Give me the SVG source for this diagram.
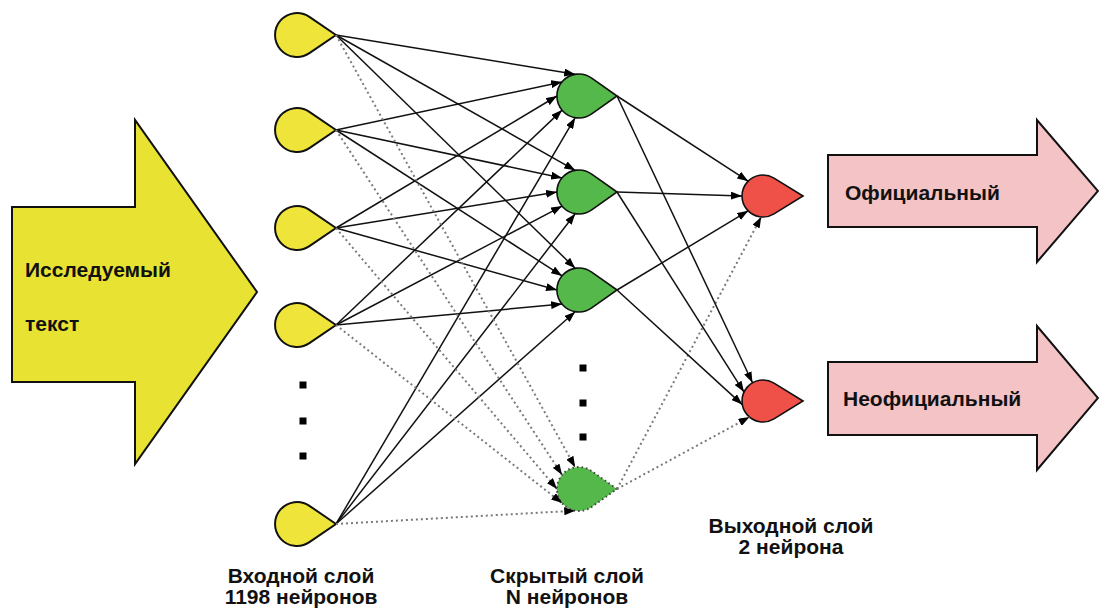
<svg xmlns="http://www.w3.org/2000/svg" xmlns:xlink="http://www.w3.org/1999/xlink" width="1099" height="612" viewBox="0 0 1099 612">
<style>
.bg{fill:#ffffff}
.bigY{fill:#E8E233;stroke:#111;stroke-width:2}
.bigP{fill:#F4C3C5;stroke:#111;stroke-width:2}
.inp{fill:#EFE43A;stroke:#111;stroke-width:2}
.hid{fill:#55B84A;stroke:#111;stroke-width:1.6}
.hidD{fill:#55B84A;stroke:#444;stroke-width:2;stroke-dasharray:1.5 3}
.out{fill:#EF5048;stroke:#111;stroke-width:1.6}
.lbl{font-family:"Liberation Sans",Arial,sans-serif;font-weight:bold;font-size:21px;fill:#111}
.mid{text-anchor:middle}
.sol{stroke:#111;stroke-width:1.5;fill:none;marker-end:url(#ah)}
.dot{stroke:#7a7a7a;stroke-width:2;stroke-dasharray:2 3;fill:none;marker-end:url(#ah)}
.sq{fill:#000}
</style>
<defs>
<marker id="ah" markerUnits="userSpaceOnUse" markerWidth="12" markerHeight="8" refX="11" refY="4" orient="auto">
<path d="M0,0 L11,4 L0,8 Z" fill="#000"/>
</marker>
<path id="dIn" d="M39,0 L12.4,-18.2 A22,22 0 1 0 12.4,18.2 Z"/>
<path id="dHid" d="M38,0 L12.7,-17.9 A22,22 0 1 0 12.7,17.9 Z"/>
<path id="dOut" d="M40,0 L11,-17.9 A21,21 0 1 0 11,17.9 Z"/>
</defs>
<rect class="bg" x="0" y="0" width="1099" height="612"/>

<g id="input-arrow">
<path class="bigY" d="M12,207 L135,207 L135,120 L257,292 L135,464 L135,382 L12,382 Z"/>
<text class="lbl" x="25" y="277">Исследуемый</text>
<text class="lbl" x="25" y="331">текст</text>
</g>

<g id="out-arrow-1">
<path class="bigP" d="M828,155 L1037,155 L1037,120 L1098,191 L1037,262 L1037,227 L828,227 Z"/>
<text class="lbl" x="845" y="200">Официальный</text>
</g>
<g id="out-arrow-2">
<path class="bigP" d="M828,362 L1037,362 L1037,326 L1098,398 L1037,470 L1037,435 L828,435 Z"/>
<text class="lbl" x="843" y="406">Неофициальный</text>
</g>

<g id="in1"><use xlink:href="#dIn" href="#dIn" class="inp" transform="translate(297,35)"/></g>
<g id="in2"><use xlink:href="#dIn" href="#dIn" class="inp" transform="translate(297,130)"/></g>
<g id="in3"><use xlink:href="#dIn" href="#dIn" class="inp" transform="translate(297,228)"/></g>
<g id="in4"><use xlink:href="#dIn" href="#dIn" class="inp" transform="translate(297,325)"/></g>
<g id="in-dots">
<rect class="sq" x="299.5" y="381.5" width="7" height="7"/>
<rect class="sq" x="299.5" y="417.5" width="7" height="7"/>
<rect class="sq" x="299.5" y="452.5" width="7" height="7"/>
</g>
<g id="in5"><use xlink:href="#dIn" href="#dIn" class="inp" transform="translate(297,524)"/></g>

<g id="h1"><use xlink:href="#dHid" href="#dHid" class="hid" transform="translate(579,96)"/></g>
<g id="h2"><use xlink:href="#dHid" href="#dHid" class="hid" transform="translate(579,192)"/></g>
<g id="h3"><use xlink:href="#dHid" href="#dHid" class="hid" transform="translate(579,290)"/></g>
<g id="h-dots">
<rect class="sq" x="579.5" y="364.5" width="7" height="7"/>
<rect class="sq" x="579.5" y="399.5" width="7" height="7"/>
<rect class="sq" x="579.5" y="433.5" width="7" height="7"/>
</g>
<g id="h4"><use xlink:href="#dHid" href="#dHid" class="hidD" transform="translate(579,489)"/></g>

<g id="o1"><use xlink:href="#dOut" href="#dOut" class="out" transform="translate(763,196)"/></g>
<g id="o2"><use xlink:href="#dOut" href="#dOut" class="out" transform="translate(763,401)"/></g>

<g id="connectors">
<line class="sol" x1="336" y1="35" x2="575.2" y2="74.3"/>
<line class="sol" x1="336" y1="130" x2="562.1" y2="81.9"/>
<line class="sol" x1="336" y1="228" x2="557" y2="96"/>
<line class="sol" x1="336" y1="325" x2="562.1" y2="110.1"/>
<line class="sol" x1="336" y1="524" x2="575.2" y2="117.7"/>
<line class="sol" x1="336" y1="35" x2="575.2" y2="170.3"/>
<line class="sol" x1="336" y1="130" x2="562.1" y2="177.9"/>
<line class="sol" x1="336" y1="228" x2="557" y2="192"/>
<line class="sol" x1="336" y1="325" x2="562.1" y2="206.1"/>
<line class="sol" x1="336" y1="524" x2="575.2" y2="213.7"/>
<line class="sol" x1="336" y1="35" x2="575.2" y2="268.3"/>
<line class="sol" x1="336" y1="130" x2="562.1" y2="275.9"/>
<line class="sol" x1="336" y1="228" x2="557" y2="290"/>
<line class="sol" x1="336" y1="325" x2="562.1" y2="304.1"/>
<line class="sol" x1="336" y1="524" x2="575.2" y2="311.7"/>
<line class="dot" x1="336" y1="35" x2="575.2" y2="467.3"/>
<line class="dot" x1="336" y1="130" x2="562.1" y2="474.9"/>
<line class="dot" x1="336" y1="228" x2="557" y2="489"/>
<line class="dot" x1="336" y1="325" x2="562.1" y2="503.1"/>
<line class="dot" x1="336" y1="524" x2="575.2" y2="510.7"/>
<line class="sol" x1="617" y1="96" x2="748.2" y2="181.2"/>
<line class="sol" x1="617" y1="192" x2="742" y2="196"/>
<line class="sol" x1="617" y1="290" x2="748.2" y2="210.8"/>
<line class="dot" x1="617" y1="489" x2="761.2" y2="216.9"/>
<line class="sol" x1="617" y1="96" x2="752.5" y2="382.8"/>
<line class="sol" x1="617" y1="192" x2="744" y2="392.1"/>
<line class="sol" x1="617" y1="290" x2="742.3" y2="404.6"/>
<line class="dot" x1="617" y1="489" x2="749.5" y2="417.1"/>
</g>

<g id="labels">
<text class="lbl mid" x="301" y="583">Входной слой</text>
<text class="lbl mid" x="301" y="604">1198 нейронов</text>
<text class="lbl mid" x="567" y="583">Скрытый слой</text>
<text class="lbl mid" x="567" y="604">N нейронов</text>
<text class="lbl mid" x="791" y="533">Выходной слой</text>
<text class="lbl mid" x="791" y="554">2 нейрона</text>
</g>
</svg>
